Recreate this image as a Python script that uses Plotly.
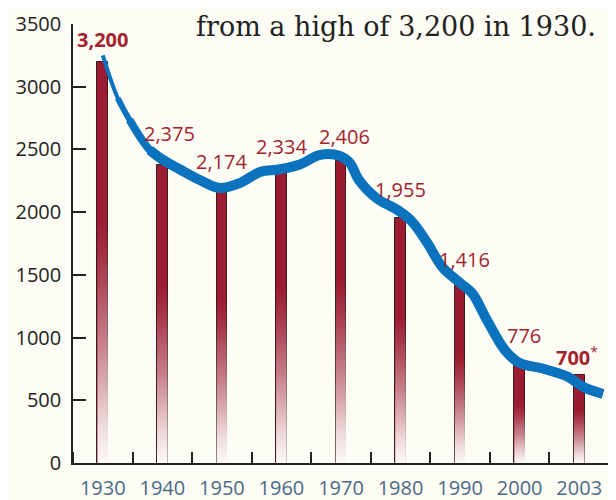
import plotly.graph_objects as go

# ---- data ----
years = ["1930", "1940", "1950", "1960", "1970", "1980", "1990", "2000", "2003"]
values = [3200, 2375, 2174, 2334, 2406, 1955, 1416, 776, 700]
value_labels = ["<b>3,200</b>", "2,375", "2,174", "2,334", "2,406", "1,955", "1,416", "776", "<b>700</b><sup>*</sup>"]

# smooth trend ribbon (x in category-index units)
trend_x = [0.0, 0.25, 0.45, 0.79, 1.0, 1.3, 1.63, 1.97, 2.3, 2.64, 2.95, 3.31, 3.65, 3.98, 4.15, 4.3, 4.6, 4.95, 5.2, 5.45, 5.7, 6.0, 6.2, 6.45, 6.75, 7.0, 7.35, 7.8, 8.07, 8.4]
trend_y = [3250, 2910, 2735, 2495, 2420, 2340, 2256, 2192, 2232, 2320, 2340, 2380, 2456, 2448, 2392, 2256, 2110, 2017, 1921, 1754, 1563, 1435, 1355, 1140, 901, 797, 757, 690, 606, 550]

title_text = "from a high of 3,200 in 1930."

# label nudges in pixels (layout only)
label_dx = [0, 7, 0, 0, 3, 0, 4, 4, -2]
label_dy = [22, 32, 29, 24, 25, 28, 26, 30, 19]

BG = "#fdfdf5"
BAR = "#9b1b30"
LABEL = "#a3232f"
BLUE = "#0b72bd"
AXIS = "#222222"

fig = go.Figure()

bar_w = 0.18
fig.add_trace(go.Bar(
    x=list(range(len(years))), y=values, width=bar_w,
    marker=dict(color=BAR, line=dict(color="#3a1c1f", width=1)),
    hoverinfo="skip", showlegend=False,
))

# white fade overlay on the lower part of each bar
for i, v in enumerate(values):
    fig.add_trace(go.Scatter(
        x=[i - bar_w / 2, i + bar_w / 2, i + bar_w / 2, i - bar_w / 2, i - bar_w / 2],
        y=[0, 0, v, v, 0],
        mode="lines", line=dict(width=0), fill="toself",
        fillgradient=dict(
            type="vertical", start=0, stop=v,
            colorscale=[[0, "rgba(253,250,248,1)"], [0.1, "rgba(253,250,248,0.85)"],
                        [0.3, "rgba(253,250,248,0.45)"], [0.5, "rgba(253,250,248,0.12)"],
                        [0.6, "rgba(253,250,248,0)"], [1, "rgba(253,250,248,0)"]]),
        hoverinfo="skip", showlegend=False,
    ))

# tapering ribbon: thin start, then full width
for a, b, w in [(0, 3, 4), (1, 4, 6), (2, 5, 8), (3, None, 10)]:
    fig.add_trace(go.Scatter(
        x=trend_x[a:b], y=trend_y[a:b], mode="lines",
        line=dict(color=BLUE, width=w, shape="spline", smoothing=1.0),
        hoverinfo="skip", showlegend=False,
    ))

for i, (v, t) in enumerate(zip(values, value_labels)):
    fig.add_annotation(
        x=i, y=v, text=t, showarrow=False, xanchor="center", yanchor="middle",
        xshift=label_dx[i], yshift=label_dy[i],
        font=dict(family="Open Sans", size=20, color=LABEL),
    )

fig.add_annotation(
    xref="paper", yref="paper", x=0.978, y=1.0, yshift=-2, borderpad=0,
    xanchor="right", yanchor="middle", text=title_text, showarrow=False,
    font=dict(family="DejaVu Serif", size=27, color="#222222"),
)

# page body has an 8px margin, so the figure is 8px smaller and margins shifted
fig.update_layout(
    width=608, height=492,
    margin=dict(l=65, r=7, t=16, b=37, autoexpand=False),
    paper_bgcolor=BG, plot_bgcolor=BG,
    bargap=0, showlegend=False,
    xaxis=dict(
        range=[-0.5, 8.5], tickmode="array", tickvals=list(range(len(years))), ticktext=years,
        ticks="", showgrid=False, zeroline=False, automargin=False,
        showline=True, linecolor=AXIS, linewidth=2,
        tickfont=dict(family="Open Sans", size=20, color="#4b6a88"),
        ticklabelstandoff=6,
        minor=dict(tickmode="array", tickvals=[k + 0.5 for k in range(-1, len(years))],
                   ticks="inside", ticklen=11, tickwidth=1.5, tickcolor=AXIS, showgrid=False),
    ),
    yaxis=dict(
        range=[0, 3500], tickvals=[0, 500, 1000, 1500, 2000, 2500, 3000, 3500],
        ticks="inside", ticklen=13, tickwidth=1.5, tickcolor=AXIS, automargin=False,
        showgrid=False, zeroline=False, showline=True, linecolor=AXIS, linewidth=1.5,
        tickfont=dict(family="Open Sans", size=20, color="#222222"),
        ticklabelstandoff=6,
    ),
)

fig.write_html("out.html")
